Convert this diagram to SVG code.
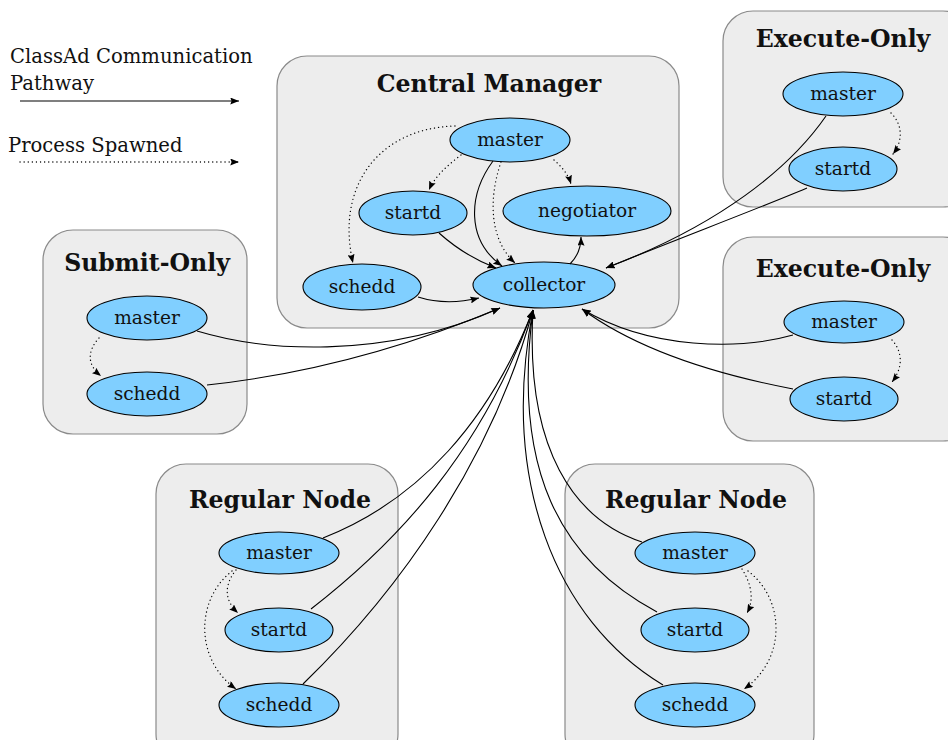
<svg xmlns="http://www.w3.org/2000/svg" width="948" height="740" viewBox="0 0 948 740">
<style>
.cl{fill:#ededed;stroke:#8a8a8a;stroke-width:1.2}
.tt{font-family:"DejaVu Serif","Liberation Serif",serif;font-weight:bold;font-size:23.6px;fill:#111;text-anchor:middle}
.nd ellipse{fill:#80cfff;stroke:#000;stroke-width:1.1}
.nd text{font-family:"DejaVu Serif","Liberation Serif",serif;font-size:18.6px;fill:#111;text-anchor:middle}
.lg{font-family:"DejaVu Serif","Liberation Serif",serif;font-size:19.6px;fill:#111}
.s{fill:none;stroke:#000;stroke-width:1.1;marker-end:url(#ah)}
.d{fill:none;stroke:#000;stroke-width:1.3;stroke-dasharray:0.1 4;stroke-linecap:round;marker-end:url(#ah)}
</style>
<defs>
<marker id="ah" viewBox="0 0 10 8" refX="10" refY="4" markerWidth="9" markerHeight="7" markerUnits="userSpaceOnUse" orient="auto">
<path d="M0,0 L10,4 L0,8 L1.5,4 z" fill="#000"/>
</marker>
</defs>

<g id="legend">
<text class="lg" x="10" y="63">ClassAd Communication</text>
<text class="lg" x="10" y="90">Pathway</text>
<text class="lg" x="8" y="152">Process Spawned</text>
<path class="s" d="M20,101 L239,101"/>
<path class="d" d="M20,162 L239,162"/>
</g>

<g id="cluster-central">
<rect class="cl" x="277" y="56" width="402" height="272" rx="30"/>
<text class="tt" x="489" y="92">Central Manager</text>
</g>
<g id="cluster-exec1">
<rect class="cl" x="723" y="11" width="250" height="196" rx="30"/>
<text class="tt" x="843" y="47">Execute-Only</text>
</g>
<g id="cluster-exec2">
<rect class="cl" x="723" y="237" width="250" height="204" rx="30"/>
<text class="tt" x="843" y="277">Execute-Only</text>
</g>
<g id="cluster-submit">
<rect class="cl" x="43" y="230" width="204" height="204" rx="30"/>
<text class="tt" x="147" y="271">Submit-Only</text>
</g>
<g id="cluster-regular1">
<rect class="cl" x="156" y="464" width="242" height="300" rx="30"/>
<text class="tt" x="280" y="508">Regular Node</text>
</g>
<g id="cluster-regular2">
<rect class="cl" x="565" y="464" width="249" height="300" rx="30"/>
<text class="tt" x="696" y="508">Regular Node</text>
</g>

<g id="cm-master" class="nd"><ellipse cx="510" cy="140" rx="60" ry="22"/><text x="510" y="146">master</text></g>
<g id="cm-startd" class="nd"><ellipse cx="413" cy="213" rx="54" ry="22"/><text x="413" y="219">startd</text></g>
<g id="cm-negotiator" class="nd"><ellipse cx="587" cy="211" rx="84" ry="25"/><text x="587" y="217">negotiator</text></g>
<g id="cm-schedd" class="nd"><ellipse cx="362" cy="287" rx="59" ry="23"/><text x="362" y="293">schedd</text></g>
<g id="cm-collector" class="nd"><ellipse cx="544" cy="285" rx="71" ry="23"/><text x="544" y="291">collector</text></g>

<g id="ex1-master" class="nd"><ellipse cx="843" cy="94" rx="60" ry="22"/><text x="843" y="100">master</text></g>
<g id="ex1-startd" class="nd"><ellipse cx="843" cy="169" rx="54" ry="22"/><text x="843" y="175">startd</text></g>

<g id="ex2-master" class="nd"><ellipse cx="844" cy="322" rx="60" ry="21"/><text x="844" y="328">master</text></g>
<g id="ex2-startd" class="nd"><ellipse cx="844" cy="399" rx="54" ry="22"/><text x="844" y="405">startd</text></g>

<g id="sub-master" class="nd"><ellipse cx="147" cy="318" rx="60" ry="22"/><text x="147" y="324">master</text></g>
<g id="sub-schedd" class="nd"><ellipse cx="147" cy="394" rx="60" ry="22"/><text x="147" y="400">schedd</text></g>

<g id="rg1-master" class="nd"><ellipse cx="279" cy="553" rx="60" ry="21"/><text x="279" y="559">master</text></g>
<g id="rg1-startd" class="nd"><ellipse cx="279" cy="630" rx="54" ry="22"/><text x="279" y="636">startd</text></g>
<g id="rg1-schedd" class="nd"><ellipse cx="279" cy="705" rx="60" ry="22"/><text x="279" y="711">schedd</text></g>

<g id="rg2-master" class="nd"><ellipse cx="695" cy="553" rx="60" ry="21"/><text x="695" y="559">master</text></g>
<g id="rg2-startd" class="nd"><ellipse cx="695" cy="630" rx="54" ry="22"/><text x="695" y="636">startd</text></g>
<g id="rg2-schedd" class="nd"><ellipse cx="695" cy="705" rx="60" ry="22"/><text x="695" y="711">schedd</text></g>

<g id="connectors">
<!-- central manager internal -->
<path class="d" d="M461,155 C448,165 435,176 429,190"/>
<path class="d" d="M554,160 C562,167 568,174 571,184"/>
<path class="d" d="M455,126 C380,128 335,185 353,263"/>
<path class="s" d="M493,161 C468,195 466,240 502,266"/>
<path class="d" d="M501,162 C488,200 490,240 515,263"/>
<path class="s" d="M439,233 C458,250 475,260 496,268"/>
<path class="s" d="M418,297 C437,303 458,303 479,298"/>
<path class="s" d="M570,264 C577,257 581,249 581,237"/>
<!-- execute-only 1 -->
<path class="d" d="M891,113 C903,125 903,141 893,154"/>
<path class="s" d="M826,116 C790,168 720,225 606,268"/>
<path class="s" d="M807,188 C760,208 680,238 606,268"/>
<!-- execute-only 2 -->
<path class="d" d="M892,340 C903,352 903,368 892,382"/>
<path class="s" d="M793,335 C740,350 650,350 582,309"/>
<path class="s" d="M793,389 C720,375 640,352 582,309"/>
<!-- submit-only -->
<path class="d" d="M99,338 C87,351 87,365 101,376"/>
<path class="s" d="M197,331 C260,350 380,362 500,308"/>
<path class="s" d="M207,385 C300,375 400,350 500,308"/>
<!-- regular node 1 -->
<path class="d" d="M236,570 C224,585 224,600 238,613"/>
<path class="d" d="M232,571 C195,600 195,660 236,689"/>
<path class="s" d="M323,538 C420,500 490,420 533,310"/>
<path class="s" d="M311,609 C400,540 482,450 533,310"/>
<path class="s" d="M303,684 C400,590 492,460 533,310"/>
<!-- regular node 2 -->
<path class="d" d="M742,569 C752,585 754,600 747,613"/>
<path class="d" d="M748,571 C786,600 786,660 744,689"/>
<path class="s" d="M642,542 C575,520 525,450 533,310"/>
<path class="s" d="M657,612 C560,560 512,470 533,310"/>
<path class="s" d="M663,685 C555,620 500,480 533,310"/>
</g>
</svg>
